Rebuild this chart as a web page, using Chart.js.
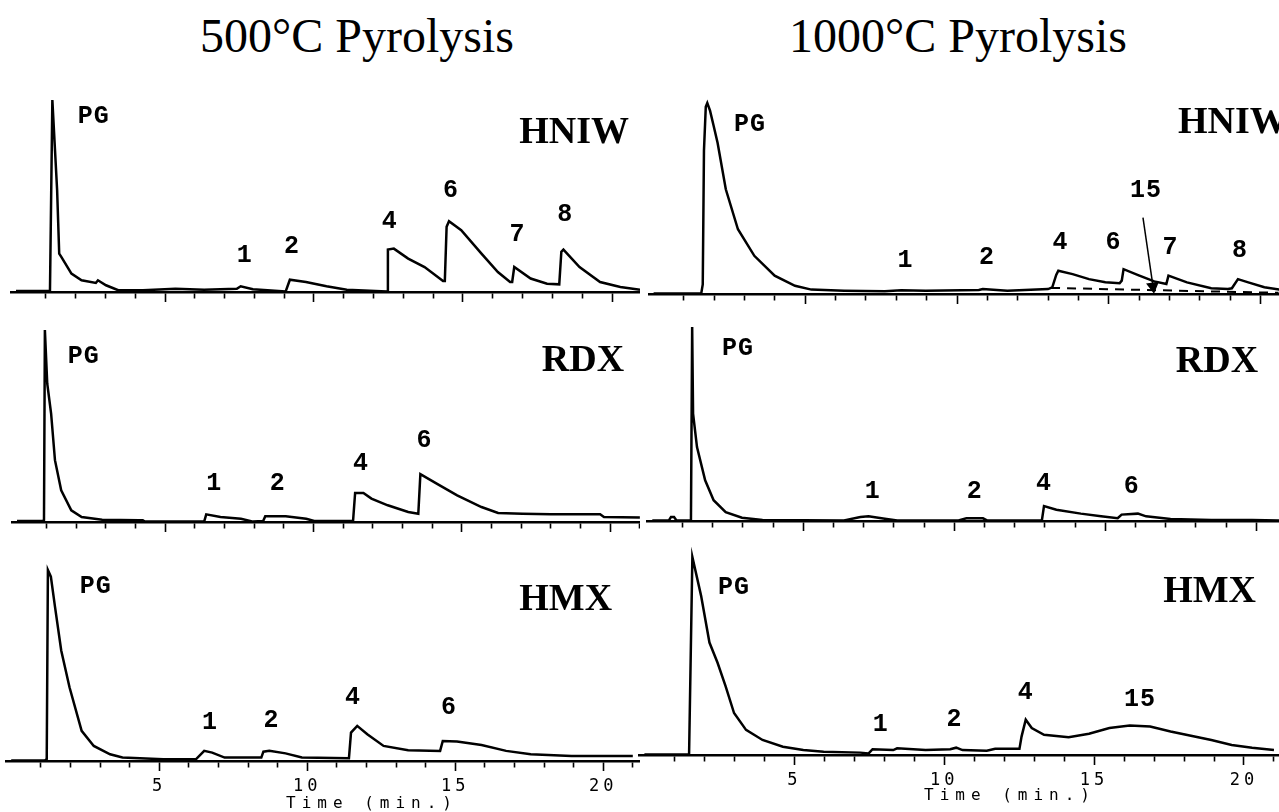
<!DOCTYPE html>
<html>
<head>
<meta charset="utf-8">
<title>Pyrolysis GC traces</title>
<script src="https://cdn.jsdelivr.net/npm/chart.js@4.4.1/dist/chart.umd.min.js"></script>
<style>
  html, body { margin: 0; padding: 0; background: #fff; }
  body { width: 1279px; height: 812px; position: relative; overflow: hidden; }
  canvas { position: absolute; }
  .ttl { position: absolute; top: 12px; transform: translateX(-50%); font: 48px "Liberation Serif", serif; line-height: 1; white-space: nowrap; color: #000; }
  .axt { position: absolute; transform: translate(-50%, -50%); font: 16px "DejaVu Sans Mono", monospace; letter-spacing: 6px; white-space: nowrap; color: #000; }
</style>
</head>
<body>
<div class="ttl" style="left:357px">500°C Pyrolysis</div>
<div class="ttl" style="left:958px">1000°C Pyrolysis</div>
<canvas id="hniw500"></canvas>
<canvas id="hniw1000"></canvas>
<canvas id="rdx500"></canvas>
<canvas id="rdx1000"></canvas>
<canvas id="hmx500"></canvas>
<canvas id="hmx1000"></canvas>
<div class="axt" style="left:372px; top:802px">Time (min.)</div>
<div class="axt" style="left:1010px; top:794px">Time (min.)</div>
<script>
// time axis labels (min)
const timeTicks = [5, 10, 15, 20];

// ---- 500 C, HNIW ----
const hniw500Time = [0, 1.10, 1.14, 1.22, 1.38, 1.45, 1.52, 1.86, 2.20, 2.68,
  2.75, 3.02, 3.43, 4.26, 5.35, 6.31, 7.41, 7.54, 7.95, 9.05,
  9.19, 9.73, 10.42, 11.10, 12.45, 12.48, 12.68, 13.16, 13.71, 14.33,
  14.39, 14.45, 14.53, 14.94, 15.62, 16.17, 16.58, 16.65, 16.72, 17.27,
  17.82, 18.23, 18.30, 18.37, 18.91, 19.60, 20.28, 20.94];
const hniw500Signal = [0.5, 0.5, 0.5, 100, 53, 20, 18.3, 9.6, 6.1, 4.7,
  6.1, 3.5, 0.9, 0.9, 1.7, 1.2, 1.7, 3.0, 1.4, 0.3,
  6.4, 5.2, 3.0, 1.2, 0.3, 22.1, 22.6, 17.4, 13.0, 5.7,
  5.7, 34.0, 36.9, 32.2, 20.0, 10.4, 5.2, 5.2, 13.0, 7.0,
  4.3, 4.0, 21.0, 22.1, 13.0, 5.2, 2.6, 1.2];
const hniw500Peaks = ['PG', '1', '2', '4', '6', '7', '8'];
const hniw500PeakTime = [2.61, 7.68, 9.26, 12.54, 14.6, 16.83, 18.43];
const hniw500PeakHeight = [91.3, 19.1, 23.5, 36.5, 53, 29.6, 40];

// ---- 1000 C, HNIW ----
const hniw1000Time = [0, 1.57, 1.62, 1.66, 1.72, 1.77, 1.86, 1.98, 2.11, 2.38,
  2.78, 3.32, 3.99, 4.66, 5.20, 6.28, 7.62, 8.16, 8.97, 10.72,
  10.85, 11.66, 13.00, 13.14, 13.27, 13.34, 13.81, 14.35, 14.89, 15.36,
  15.43, 15.49, 15.97, 16.50, 16.90, 16.97, 17.58, 18.38, 18.93, 19.06,
  19.26, 19.60, 20.13, 20.65];
const hniw1000Signal = [0.3, 0.3, 5, 75, 98, 100, 96, 88, 79.1, 54.8,
  33.9, 20.0, 9.6, 4.3, 2.3, 1.7, 1.4, 1.9, 1.7, 2.1,
  2.6, 1.7, 2.6, 3.5, 10.0, 12.2, 10.4, 7.8, 6.1, 5.6,
  7.0, 13.0, 9.9, 6.6, 5.2, 9.6, 6.1, 3.0, 2.6, 3.0,
  7.8, 6.1, 3.5, 2.3];
const hniw1000BaseTime = [13.1, 20.6];
const hniw1000BaseSignal = [3.2, 0.6];
const hniw1000ArrowTime = [16.13, 16.46];
const hniw1000ArrowSignal = [40, 4];
const hniw1000Peaks = ['PG', '1', '2', '4', '6', '7', '8', '15'];
const hniw1000PeakTime = [3.18, 8.3, 10.99, 13.41, 15.16, 17.04, 19.33, 16.23];
const hniw1000PeakHeight = [88.7, 17.4, 19.1, 27, 27, 24.3, 22.6, 53.9];

// ---- 500 C, RDX ----
const rdx500Time = [0, 0.87, 0.91, 0.94, 1.02, 1.15, 1.28, 1.49, 1.83, 2.18,
  2.87, 4.11, 4.24, 4.31, 6.31, 6.38, 6.86, 7.55, 7.96, 8.30,
  8.37, 9.06, 9.75, 10.02, 11.33, 11.40, 11.68, 11.95, 12.50, 13.19,
  13.53, 13.60, 14.15, 14.84, 15.66, 16.22, 17.04, 18.00, 19.66, 19.79,
  21.00];
const rdx500Signal = [0.5, 0.5, 1, 100, 72, 56.5, 32.2, 16.5, 6.1, 2.6,
  1.2, 0.9, 0.9, 0.2, 0.2, 4.0, 2.6, 1.7, 0.2, 0.5,
  3.0, 3.0, 1.7, 0.5, 0.5, 15.1, 15.1, 12.2, 8.7, 5.2,
  4.3, 24.9, 20.0, 13.9, 7.8, 4.7, 4.3, 4.0, 4.0, 2.6,
  2.3];
const rdx500Peaks = ['PG', '1', '2', '4', '6'];
const rdx500PeakTime = [2.25, 6.65, 8.79, 11.6, 13.74];
const rdx500PeakHeight = [86, 20, 20, 30.4, 42.6];

// ---- 1000 C, RDX ----
const rdx1000Time = [0, 0.55, 0.62, 0.72, 0.80, 1.28, 1.32, 1.35, 1.48, 1.75,
  2.03, 2.43, 2.97, 3.65, 6.35, 6.89, 7.16, 7.70, 8.11, 10.14,
  10.40, 10.95, 11.08, 12.90, 12.97, 13.38, 14.19, 14.86, 15.41, 15.54,
  16.08, 16.35, 17.16, 18.51, 19.86, 20.78];
const rdx1000Signal = [0.3, 0.3, 2.1, 2.1, 0.3, 0.3, 100, 55.3, 38.1, 21.0,
  10.7, 4.6, 1.7, 0.5, 0.3, 2.1, 2.4, 1.2, 0.3, 0.3,
  1.4, 1.4, 0.3, 0.3, 7.7, 5.8, 3.8, 2.4, 1.4, 3.3,
  3.8, 2.4, 1.0, 0.5, 0.5, 0.3];
const rdx1000Peaks = ['PG', '1', '2', '4', '6'];
const rdx1000PeakTime = [2.84, 7.3, 10.68, 12.97, 15.88];
const rdx1000PeakHeight = [88.8, 15, 15, 19.2, 17.5];

// ---- 500 C, HMX ----
const hmx500Time = [0, 1.14, 1.20, 1.24, 1.34, 1.48, 1.69, 1.97, 2.38, 2.79,
  3.34, 3.76, 5.14, 6.24, 6.52, 6.79, 7.21, 8.45, 8.52, 8.72,
  9.27, 9.82, 11.41, 11.48, 11.69, 12.03, 12.58, 13.41, 14.49, 14.58,
  15.06, 15.89, 16.72, 17.55, 18.93, 21.00];
const hmx500Signal = [0.3, 0.3, 1, 100, 96.5, 80.7, 57.9, 38.6, 15.8, 7.9,
  3.5, 1.8, 0.9, 0.9, 5.3, 4.4, 1.8, 1.8, 4.9, 5.3,
  4.0, 1.8, 1.4, 14.9, 18.4, 14.0, 7.9, 5.6, 5.3, 10.5,
  10.2, 8.4, 5.3, 3.5, 2.6, 2.6];
const hmx500Peaks = ['PG', '1', '2', '4', '6'];
const hmx500PeakTime = [2.86, 6.72, 8.79, 11.55, 14.79];
const hmx500PeakHeight = [91, 20, 21, 33, 28];

// ---- 1000 C, HMX ----
const hmx1000Time = [0, 1.49, 1.60, 1.89, 2.17, 2.44, 2.71, 2.99, 3.39, 3.94,
  4.62, 5.30, 5.98, 7.20, 7.48, 7.61, 8.30, 8.43, 9.38, 10.20,
  10.40, 10.61, 11.42, 11.70, 12.51, 12.58, 12.72, 12.92, 13.33, 14.15,
  14.83, 15.51, 16.19, 16.87, 17.55, 18.91, 19.59, 20.27, 21.00];
const hmx1000Signal = [0.3, 0.3, 100, 80.5, 56.8, 46.6, 34.7, 21.2, 12.7, 7.6,
  4.2, 2.5, 1.7, 1.2, 0.8, 2.9, 2.5, 3.4, 2.5, 2.9,
  3.7, 2.5, 2.2, 3.2, 3.1, 9.3, 17.8, 13.6, 10.2, 9.0,
  10.7, 13.6, 14.9, 14.4, 11.9, 7.6, 5.1, 3.7, 2.5];
const hmx1000Peaks = ['PG', '1', '2', '4', '15'];
const hmx1000PeakTime = [2.99, 7.88, 10.34, 12.72, 16.53];
const hmx1000PeakHeight = [84.7, 15.3, 17.8, 31.4, 28];

// where each panel sits on the page (pixels)
const layout = {
  hniw500:  { x0: 16,    ppm: 29.8,  base: 292, pgTop: 100, top: 80,  bottom: 306, right: 640 },
  hniw1000: { x0: 653.6, ppm: 30.34, base: 294, pgTop: 103, top: 80,  bottom: 308, right: 1279 },
  rdx500:   { x0: 17,    ppm: 29.66, base: 522, pgTop: 330, top: 312, bottom: 536, right: 640 },
  rdx1000:  { x0: 652.3, ppm: 30.2,  base: 521, pgTop: 327, top: 312, bottom: 535, right: 1279 },
  hmx500:   { x0: 11.2,  ppm: 29.6,  base: 761, pgTop: 570, top: 545, bottom: 800, right: 640 },
  hmx1000:  { x0: 644.4, ppm: 29.98, base: 755, pgTop: 557, top: 545, bottom: 795, right: 1279 }
};

const toPoints = (xs, ys) => xs.map((x, i) => ({ x: x, y: ys[i] }));

// peak numbers and sample name, placed in data coordinates
const peakLabels = {
  id: 'peakLabels',
  beforeDraw(chart) { chart.ctx.letterSpacing = '4px'; },
  afterDatasetsDraw(chart, args, opts) {
    const { ctx, scales: { x, y } } = chart;
    ctx.save();
    ctx.letterSpacing = '1px';
    ctx.fillStyle = '#000';
    ctx.textAlign = 'center';
    ctx.textBaseline = 'middle';
    ctx.font = 'bold 25px "Liberation Mono"';
    opts.names.forEach((n, i) => {
      ctx.fillText(n, x.getPixelForValue(opts.times[i]), y.getPixelForValue(opts.heights[i]));
    });
    ctx.letterSpacing = '0px';
    ctx.textAlign = 'right';
    ctx.font = 'bold 38px "Liberation Serif"';
    ctx.fillText(opts.sample, x.getPixelForValue(opts.sampleAt[0]), y.getPixelForValue(opts.sampleAt[1]));
    ctx.restore();
  },
  afterDraw(chart) { chart.ctx.letterSpacing = '0px'; }
};

function makePanel(id, sample, sampleAt, time, signal, names, times, heights, showAxis, extra) {
  const L = layout[id];
  const canvas = document.getElementById(id);
  const left = Math.round(L.x0 - 0.2 * L.ppm);
  const width = L.right - left;
  const height = L.bottom - L.top;
  const ppu = (L.base - L.pgTop) / 100;
  canvas.width = width;
  canvas.height = height;
  canvas.style.left = left + 'px';
  canvas.style.top = L.top + 'px';

  const datasets = [{
    data: toPoints(time, signal),
    borderColor: '#000',
    borderWidth: 2.5,
    pointRadius: 0,
    tension: 0,
    fill: false
  }].concat(extra || []);

  return new Chart(canvas, {
    type: 'line',
    data: { datasets: datasets },
    options: {
      responsive: false,
      animation: false,
      events: [],
      layout: { padding: 0, autoPadding: false },
      plugins: {
        legend: { display: false },
        tooltip: { enabled: false },
        peakLabels: { names: names, times: times, heights: heights, sample: sample, sampleAt: sampleAt }
      },
      scales: {
        x: {
          type: 'linear',
          min: (left - L.x0) / L.ppm,
          max: (L.right - L.x0) / L.ppm,
          afterFit: s => { s.height = L.bottom - L.base; },
          border: { display: true, color: '#000', width: 2.5 },
          grid: {
            display: true,
            drawOnChartArea: false,
            drawTicks: true,
            tickLength: 10,
            tickWidth: 1.6,
            tickColor: c => (c.tick && c.tick.value > 0 ? '#000' : 'rgba(0,0,0,0)'),
            tickBorderDash: c => (c.tick && c.tick.value % 5 === 0 ? [] : [5, 40])
          },
          ticks: {
            display: showAxis,
            stepSize: 1,
            maxTicksLimit: 25,
            includeBounds: false,
            autoSkip: false,
            maxRotation: 0,
            padding: 5,
            color: '#000',
            font: { family: 'DejaVu Sans Mono', size: 17 },
            callback: v => (timeTicks.includes(v) ? String(v) : '')
          }
        },
        y: { display: false, min: 0, max: (L.base - L.top) / ppu }
      }
    },
    plugins: [peakLabels]
  });
}

makePanel('hniw500', 'HNIW', [20.57, 82.6], hniw500Time, hniw500Signal,
  hniw500Peaks, hniw500PeakTime, hniw500PeakHeight, false);

makePanel('hniw1000', 'HNIW', [20.9, 89.6], hniw1000Time, hniw1000Signal,
  hniw1000Peaks, hniw1000PeakTime, hniw1000PeakHeight, false, [
    {
      data: toPoints(hniw1000BaseTime, hniw1000BaseSignal),
      borderColor: '#000', borderWidth: 2, borderDash: [9, 7], pointRadius: 0, fill: false
    },
    {
      data: toPoints(hniw1000ArrowTime, hniw1000ArrowSignal),
      borderColor: '#000', borderWidth: 1.5, backgroundColor: '#000',
      pointRadius: [0, 6], pointStyle: 'triangle', pointRotation: 172, fill: false
    }
  ]);

makePanel('rdx500', 'RDX', [20.47, 83.5], rdx500Time, rdx500Signal,
  rdx500Peaks, rdx500PeakTime, rdx500PeakHeight, false);

makePanel('rdx1000', 'RDX', [20.06, 82], rdx1000Time, rdx1000Signal,
  rdx1000Peaks, rdx1000PeakTime, rdx1000PeakHeight, false);

makePanel('hmx500', 'HMX', [20.3, 84.2], hmx500Time, hmx500Signal,
  hmx500Peaks, hmx500PeakTime, hmx500PeakHeight, true);

makePanel('hmx1000', 'HMX', [20.4, 82.2], hmx1000Time, hmx1000Signal,
  hmx1000Peaks, hmx1000PeakTime, hmx1000PeakHeight, true);
</script>
</body>
</html>
